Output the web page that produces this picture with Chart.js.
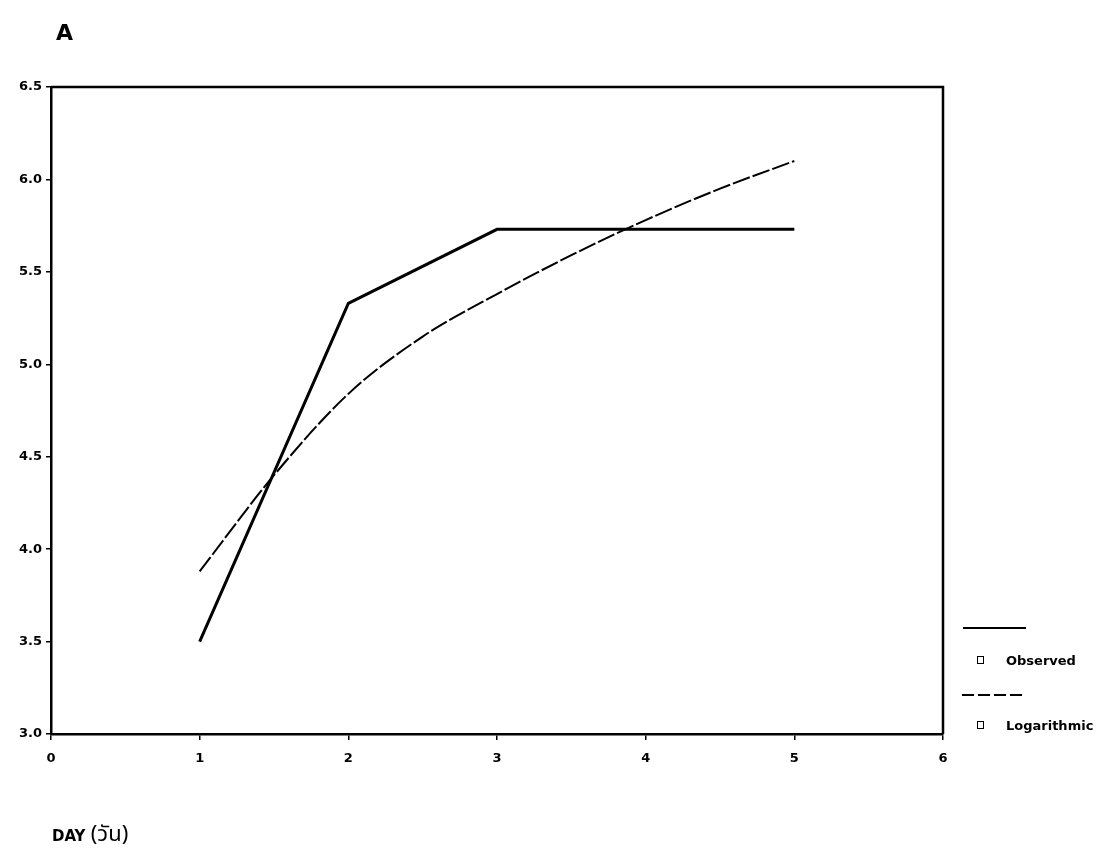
<!DOCTYPE html>
<html>
<head>
<meta charset="utf-8">
<script src="https://cdn.jsdelivr.net/npm/chart.js@4"></script>
<style>
  html, body { margin: 0; padding: 0; background: #fff; }
  #wrap { position: relative; width: 1118px; height: 862px; }
  .lbl { position: absolute; color: #000; font-family: "DejaVu Sans", sans-serif; font-weight: bold; white-space: nowrap; }
  .leg { font-size: 13px; }
  .box { display: inline-block; width: 5px; height: 6px; border: 1px solid #000; margin-right: 22px; vertical-align: 1px; }
</style>
</head>
<body>
<div id="wrap">
  <canvas id="chart" width="1118" height="862"></canvas>
  <div class="lbl" style="left:56px; top:20px; font-size:22px;">A</div>
  <div class="lbl" style="left:52px; top:818px; font-size:15px;">DAY <span style="font-family:'Noto Sans Thai','Noto Sans','DejaVu Sans',sans-serif; font-weight:normal; font-size:22px;">(วัน)</span></div>
  <div class="lbl leg" style="left:977px; top:653px;"><span class="box"></span>Observed</div>
  <div class="lbl leg" style="left:977px; top:718px;"><span class="box"></span>Logarithmic</div>
</div>
<script>
// values
const days = [1, 2, 3, 4, 5];
const observed = [3.5, 5.33, 5.73, 5.73, 5.73];
const logDays = [1, 1.5, 2, 2.5, 3, 3.5, 4, 4.5, 5];
const logarithmic = [3.88, 4.40, 4.84, 5.15, 5.38, 5.59, 5.78, 5.95, 6.10];
const yTicks = [3.0, 3.5, 4.0, 4.5, 5.0, 5.5, 6.0, 6.5];
const xTicks = [0, 1, 2, 3, 4, 5, 6];

const tickFont = { family: 'DejaVu Sans', size: 13, weight: 'bold' };

// top and right edges of the frame, plus the legend line samples
const framePlugin = {
  id: 'frame',
  afterDraw(chart) {
    const { ctx, chartArea: a } = chart;
    ctx.save();
    ctx.strokeStyle = '#000';
    ctx.lineWidth = 2.5;
    ctx.beginPath();
    ctx.moveTo(a.left, a.top);
    ctx.lineTo(a.right, a.top);
    ctx.lineTo(a.right, a.bottom);
    ctx.stroke();

    ctx.lineWidth = 2;
    ctx.beginPath();
    ctx.moveTo(963, 628);
    ctx.lineTo(1026, 628);
    ctx.stroke();
    ctx.setLineDash([12, 4]);
    ctx.beginPath();
    ctx.moveTo(962, 695);
    ctx.lineTo(1022, 695);
    ctx.stroke();
    ctx.restore();
  }
};

new Chart(document.getElementById('chart').getContext('2d'), {
  type: 'line',
  data: {
    datasets: [
      {
        label: 'Observed',
        data: days.map((d, i) => ({ x: d, y: observed[i] })),
        borderColor: '#000',
        borderWidth: 3,
        pointRadius: 0,
        tension: 0
      },
      {
        label: 'Logarithmic',
        data: logDays.map((d, i) => ({ x: d, y: logarithmic[i] })),
        borderColor: '#000',
        borderWidth: 2,
        borderDash: [18, 3],
        pointRadius: 0,
        cubicInterpolationMode: 'monotone'
      }
    ]
  },
  options: {
    responsive: false,
    animation: false,
    layout: { padding: { left: 0, top: 87, right: 175, bottom: 88 } },
    plugins: {
      legend: { display: false },
      tooltip: { enabled: false }
    },
    scales: {
      x: {
        type: 'linear',
        min: 0,
        max: 6,
        afterBuildTicks: s => { s.ticks = xTicks.map(v => ({ value: v })); },
        afterFit: s => { s.height = 40; },
        grid: { display: true, drawOnChartArea: false, drawTicks: true, tickLength: 6, color: '#000', lineWidth: 1.5 },
        border: { display: true, color: '#000', width: 2.5 },
        ticks: { color: '#000', font: tickFont, padding: 11, callback: v => String(v) }
      },
      y: {
        min: 3,
        max: 6.5,
        afterBuildTicks: s => { s.ticks = yTicks.map(v => ({ value: v })); },
        afterFit: s => { s.width = 51; },
        grid: { display: true, drawOnChartArea: false, drawTicks: true, tickLength: 5, color: '#000', lineWidth: 1.5 },
        border: { display: true, color: '#000', width: 2.5 },
        ticks: { color: '#000', font: tickFont, padding: 4, callback: v => v.toFixed(1) }
      }
    }
  },
  plugins: [framePlugin]
});
</script>
</body>
</html>
